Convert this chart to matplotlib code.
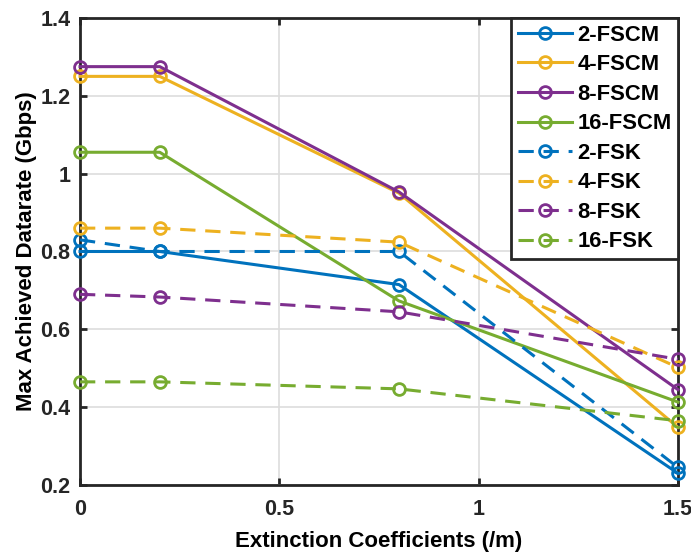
import matplotlib
matplotlib.use("Agg")
import matplotlib.pyplot as plt

plt.rcParams['font.family'] = ['Liberation Sans', 'DejaVu Sans']
plt.rcParams['font.weight'] = 'bold'

x = [0, 0.2, 0.8, 1.5]
fscm_2 = [0.80, 0.80, 0.715, 0.230]
fscm_4 = [1.250, 1.250, 0.950, 0.348]
fscm_8 = [1.275, 1.275, 0.953, 0.445]
fscm_16 = [1.055, 1.055, 0.673, 0.413]
fsk_2 = [0.830, 0.800, 0.800, 0.245]
fsk_4 = [0.860, 0.860, 0.824, 0.502]
fsk_8 = [0.690, 0.683, 0.645, 0.523]
fsk_16 = [0.465, 0.465, 0.447, 0.365]

labels = ['2-FSCM', '4-FSCM', '8-FSCM', '16-FSCM', '2-FSK', '4-FSK', '8-FSK', '16-FSK']
colors = ['#0072BD', '#EDB120', '#7E2F8E', '#77AC30']

fig = plt.figure(figsize=(6.91, 5.52), dpi=100)
ax = fig.add_axes([0.1158, 0.1214, 0.8654, 0.846])

series = [fscm_2, fscm_4, fscm_8, fscm_16, fsk_2, fsk_4, fsk_8, fsk_16]
for i, (s, lab) in enumerate(zip(series, labels)):
    c = colors[i % 4]
    ls = '-' if i < 4 else (0, (5, 3.2))
    ax.plot(x, s, linestyle=ls, color=c, lw=2.2, marker='o', markersize=8.5,
            markerfacecolor='none', markeredgewidth=2.0, label=lab, clip_on=False, zorder=3)

ax.set_xlim(0, 1.5)
ax.set_ylim(0.2, 1.4)
ax.set_xticks([0, 0.5, 1, 1.5])
ax.set_xticklabels(['0', '0.5', '1', '1.5'])
ax.set_yticks([0.2, 0.4, 0.6, 0.8, 1.0, 1.2, 1.4])
ax.set_yticklabels(['0.2', '0.4', '0.6', '0.8', '1', '1.2', '1.4'])
ax.grid(True, color='#dddddd', lw=1.2)
ax.set_axisbelow(True)
for sp in ax.spines.values():
    sp.set_linewidth(2.0)
    sp.set_color('#262626')
ax.tick_params(direction='in', length=5, width=2, labelsize=15.5, colors='#262626',
               top=True, right=True, labelcolor='#262626')
ax.tick_params(axis='x', pad=10)
ax.tick_params(axis='y', pad=7)
for t in ax.get_xticklabels() + ax.get_yticklabels():
    t.set_fontweight('bold')
ax.set_xlabel('Extinction Coefficients (/m)', fontsize=16, fontweight='bold', labelpad=8)
ax.set_ylabel('Max Achieved Datarate (Gbps)', fontsize=16, fontweight='bold', labelpad=2)

leg = ax.legend(loc='upper right', bbox_to_anchor=(1.0, 1.0), fontsize=15.8, frameon=True,
                fancybox=False, borderaxespad=0.0, handlelength=2.45, labelspacing=0.39,
                borderpad=0.3, handletextpad=0.25)
leg.get_frame().set_edgecolor('#262626')
leg.get_frame().set_linewidth(2.0)
leg.get_frame().set_alpha(1)
for t in leg.get_texts():
    t.set_fontweight('bold')

fig.savefig('out.png', dpi=100)
